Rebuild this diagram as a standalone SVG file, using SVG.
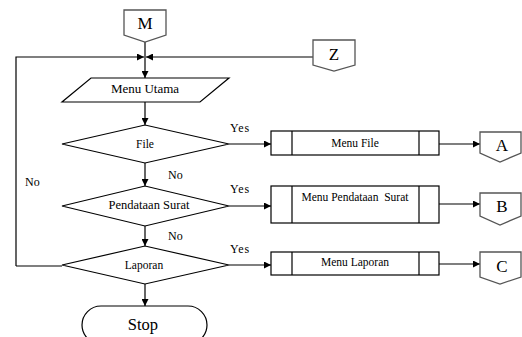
<svg xmlns="http://www.w3.org/2000/svg" width="522" height="337" viewBox="0 0 522 337">
<style>
.s{fill:#fff;stroke:#000;stroke-width:1.2}
.c{fill:#fff;stroke:#555;stroke-width:1.3}
.l{fill:none;stroke:#000;stroke-width:1.2}
text{font-family:"Liberation Serif","Times New Roman",serif;fill:#000}
.t{font-size:11.5px;text-anchor:middle}
.b{font-size:17px;text-anchor:middle}
.y{font-size:12px}
</style>
<defs>
<marker id="ah" viewBox="0 0 10 10" refX="10" refY="5" markerWidth="7" markerHeight="7" markerUnits="userSpaceOnUse" orient="auto">
<path d="M0,0 L10,5 L0,10 z" fill="#000"/>
</marker>
</defs>
<rect width="522" height="337" fill="#fff"/>
<g id="connectors">
<path class="l" d="M145,42 V57"/>
<path class="l" d="M16,266 H62 M16,266 V57 H144" marker-end="url(#ah)"/>
<path class="l" d="M313,57 H146" marker-end="url(#ah)"/>
<path class="l" d="M145,57 V78" marker-end="url(#ah)"/>
<path class="l" d="M145,102 V125" marker-end="url(#ah)"/>
<path class="l" d="M145,163 V186" marker-end="url(#ah)"/>
<path class="l" d="M145,226 V246" marker-end="url(#ah)"/>
<path class="l" d="M145,284 V306" marker-end="url(#ah)"/>
<path class="l" d="M229,144 H271" marker-end="url(#ah)"/>
<path class="l" d="M229,206 H271" marker-end="url(#ah)"/>
<path class="l" d="M229,265 H271" marker-end="url(#ah)"/>
<path class="l" d="M439,144 H480" marker-end="url(#ah)"/>
<path class="l" d="M439,204 H480" marker-end="url(#ah)"/>
<path class="l" d="M439,264 H480" marker-end="url(#ah)"/>
<text class="y" x="230" y="132" style="letter-spacing:0.8px">Yes</text>
<text class="y" x="230" y="193" style="letter-spacing:0.8px">Yes</text>
<text class="y" x="230" y="253" style="letter-spacing:0.8px">Yes</text>
<text class="y" x="168" y="179">No</text>
<text class="y" x="168" y="240">No</text>
<text class="y" x="25" y="186">No</text>
</g>
<g id="M"><path class="c" d="M124,10 H166 V35 L145,42 L124,35 Z"/><text class="b" x="145" y="29">M</text></g>
<g id="Z"><path class="c" d="M313,40 H355 V65 L334,71 L313,65 Z"/><text class="b" x="334" y="60">Z</text></g>
<g id="menu-utama"><path class="s" d="M91,78 H229 L200,102 H62 Z"/><text class="t" x="145" y="93" style="font-size:13px">Menu Utama</text></g>
<g id="file"><path class="s" d="M62,144 L145,125 L229,144 L145,163 Z"/><text class="t" x="145" y="148">File</text></g>
<g id="pendataan"><path class="s" d="M62,206 L145,186 L229,206 L145,226 Z"/><text class="t" x="149" y="209" style="font-size:12.5px">Pendataan Surat</text></g>
<g id="laporan"><path class="s" d="M62,265 L145,246 L229,265 L145,284 Z"/><text class="t" x="144" y="269">Laporan</text></g>
<g id="stop"><rect class="s" x="82" y="306" width="125" height="38" rx="19"/><text class="b" x="143" y="330" style="font-size:16.5px">Stop</text></g>
<g id="menu-file"><rect class="s" x="271" y="131" width="168" height="24"/><path class="l" d="M292,131 V155 M419,131 V155"/><text class="t" x="355" y="147">Menu File</text></g>
<g id="menu-pendataan"><rect class="s" x="271" y="186" width="168" height="37"/><path class="l" d="M292,186 V223 M419,186 V223"/><text class="t" x="355" y="201" xml:space="preserve">Menu Pendataan  Surat</text></g>
<g id="menu-laporan"><rect class="s" x="271" y="252" width="168" height="23"/><path class="l" d="M292,252 V275 M419,252 V275"/><text class="t" x="355" y="266">Menu Laporan</text></g>
<g id="A"><path class="c" d="M480,132 H521 V153 L500,162 L480,153 Z"/><text class="b" x="502" y="151">A</text></g>
<g id="B"><path class="c" d="M480,193 H521 V216 L500,225 L480,216 Z"/><text class="b" x="502" y="212">B</text></g>
<g id="C"><path class="c" d="M480,252 H521 V277 L500,284 L480,277 Z"/><text class="b" x="502" y="272">C</text></g>
</svg>
